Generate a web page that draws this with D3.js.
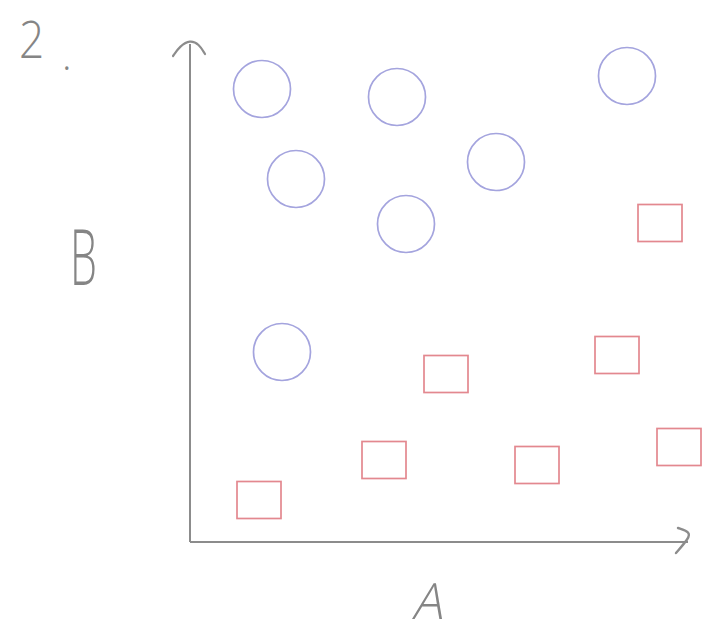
<!DOCTYPE html>
<html>
<head>
<meta charset="utf-8">
<script src="https://cdn.jsdelivr.net/npm/d3@7"></script>
<style>
  body { margin: 0; background: #fff; }
</style>
</head>
<body>
<script>
const w = 707;
const h = 637;

// group "circle" (blue)
const circleA = [14.4, 41.4, 87.4, 21.2, 61.2, 43.2, 18.4];
const circleB = [90.6, 89.0, 93.2, 72.6, 76.0, 63.6, 38.0];
// group "square" (red)
const squareA = [94.0, 51.2, 85.4, 38.8, 69.4, 97.8, 13.8];
const squareB = [63.8, 33.6, 37.4, 16.4, 15.4, 19.0, 8.4];

const svg = d3.select("body").append("svg").attr("width", w).attr("height", h);

const x = d3.scaleLinear().domain([0, 100]).range([190, 690]);
const y = d3.scaleLinear().domain([0, 100]).range([542, 42]);

const ink = "#8c8c8c";

// axes, hand-drawn look
svg.append("line")
  .attr("x1", x(0)).attr("y1", y(0))
  .attr("x2", x(0)).attr("y2", y(100) + 2)
  .attr("stroke", ink).attr("stroke-width", 2);
svg.append("line")
  .attr("x1", x(0)).attr("y1", y(0))
  .attr("x2", x(100) - 2).attr("y2", y(0))
  .attr("stroke", ink).attr("stroke-width", 2);

// arrow heads
const curved = d3.line().curve(d3.curveBasis);
svg.append("path")
  .attr("d", curved([[173, 56], [180, 46], [190, 40], [199, 44], [205, 54]]))
  .attr("fill", "none").attr("stroke", ink).attr("stroke-width", 2.2)
  .attr("stroke-linecap", "round");
svg.append("path")
  .attr("d", curved([[678, 528], [690, 532], [689, 538], [676, 553]]))
  .attr("fill", "none").attr("stroke", ink).attr("stroke-width", 2.4)
  .attr("stroke-linecap", "round");

const circles = circleA.map((a, i) => ({ a, b: circleB[i] }));
const squares = squareA.map((a, i) => ({ a, b: squareB[i] }));

svg.selectAll("circle").data(circles).enter().append("circle")
  .attr("cx", d => x(d.a))
  .attr("cy", d => y(d.b))
  .attr("r", 28.5)
  .attr("fill", "none")
  .attr("stroke", "#a4a4de")
  .attr("stroke-width", 1.7);

svg.selectAll("rect.sq").data(squares).enter().append("rect")
  .attr("class", "sq")
  .attr("x", d => x(d.a) - 22)
  .attr("y", d => y(d.b) - 18.5)
  .attr("width", 44)
  .attr("height", 37)
  .attr("fill", "none")
  .attr("stroke", "#e3888f")
  .attr("stroke-width", 1.7);

// labels
const label = (t, tx, ty, size, extra) => svg.append("text")
  .text(t)
  .attr("transform", `translate(${tx},${ty}) ${extra || ""}`)
  .attr("font-family", "Open Sans, sans-serif")
  .attr("font-weight", 300)
  .attr("font-size", size)
  .attr("fill", "#858585");

label("2", 19, 58, 52, "scale(0.85,1)");
label(".", 62, 70, 40);
label("B", 70, 285, 78, "scale(0.55,1)");
label("A", 412, 619, 50, "skewX(-12)");
</script>
</body>
</html>
